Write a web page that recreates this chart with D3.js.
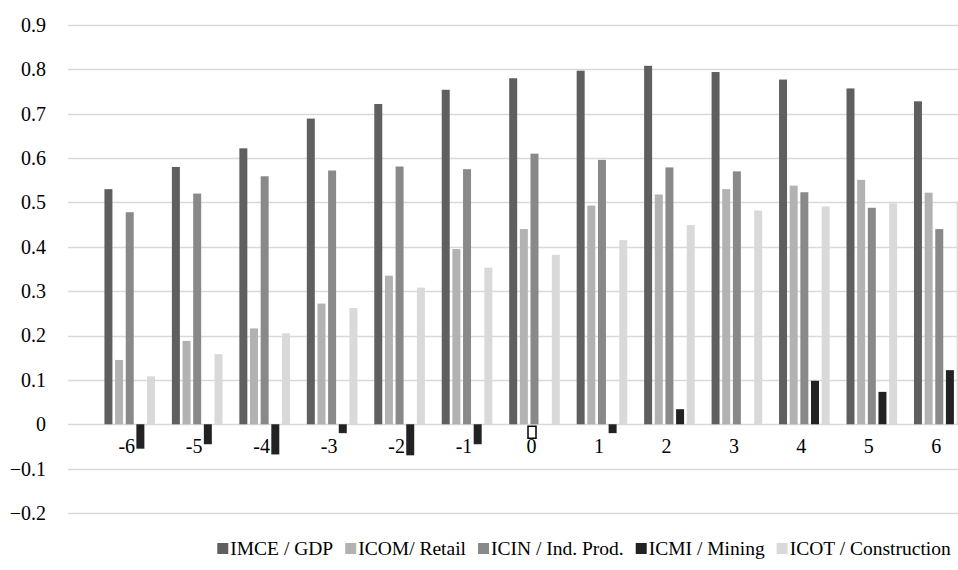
<!DOCTYPE html>
<html>
<head>
<meta charset="utf-8">
<script src="https://cdn.jsdelivr.net/npm/d3@7"></script>
<style>
  html, body { margin: 0; padding: 0; background: #fff; }
  svg { display: block; }
  svg text { font-family: "Liberation Serif", "Times New Roman", serif; fill: #000; }
</style>
</head>
<body>
<svg id="chart" width="958" height="570"></svg>
<script>
// Event-time categories
const categories = ["-6", "-5", "-4", "-3", "-2", "-1", "0", "1", "2", "3", "4", "5", "6"];

// Series names (legend order)
const seriesNames = ["IMCE / GDP", "ICOM/ Retail", "ICIN / Ind. Prod.", "ICMI / Mining", "ICOT / Construction"];

// Series values, one per category
const imceGdp      = [0.530, 0.580, 0.622, 0.689, 0.722, 0.754, 0.780, 0.797, 0.808, 0.794, 0.777, 0.757, 0.728];
const icomRetail   = [0.145, 0.188, 0.216, 0.272, 0.335, 0.395, 0.440, 0.493, 0.518, 0.530, 0.538, 0.551, 0.522];
const icinIndProd  = [0.478, 0.520, 0.559, 0.572, 0.581, 0.575, 0.610, 0.596, 0.579, 0.570, 0.523, 0.488, 0.440];
const icmiMining   = [-0.055, -0.045, -0.068, -0.020, -0.070, -0.045, 0.000, -0.020, 0.034, 0.000, 0.098, 0.073, 0.122];
const icotConstr   = [0.108, 0.158, 0.205, 0.262, 0.308, 0.353, 0.382, 0.415, 0.449, 0.482, 0.491, 0.498, 0.502];

// Y-axis tick labels
const yTicks = [-0.2, -0.1, 0, 0.1, 0.2, 0.3, 0.4, 0.5, 0.6, 0.7, 0.8, 0.9];

const seriesValues = [imceGdp, icomRetail, icinIndProd, icmiMining, icotConstr];
const colors = ["#5f5f5f", "#b2b2b2", "#898989", "#222222", "#d9d9d9"];

// Category whose label carries an unrendered glyph box
const glyphBoxCategory = "0";

const svg = d3.select("#chart");
const fontSize = 20;
const legendFontSize = 19.5;
const serif = '"Liberation Serif", "Times New Roman", serif';

const x0 = d3.scaleBand()
  .domain(categories)
  .range([93, 970])
  .paddingInner(0.25)
  .paddingOuter(0.125);

const barShift = 3;
const x1 = d3.scaleBand()
  .domain(d3.range(seriesNames.length))
  .range([barShift, x0.bandwidth() + barShift])
  .paddingInner(0.25)
  .paddingOuter(0);

const y = d3.scaleLinear()
  .domain([-0.2, 0.9])
  .range([513, 25]);

// Gridlines
svg.append("g")
  .selectAll("line")
  .data(yTicks)
  .join("line")
  .attr("x1", 68)
  .attr("x2", 958)
  .attr("y1", d => Math.round(y(d)) + 0.5)
  .attr("y2", d => Math.round(y(d)) + 0.5)
  .attr("stroke", "#d9d9d9")
  .attr("stroke-width", 1.5);

// Y-axis labels
const yAxis = d3.axisLeft(y)
  .tickValues(yTicks)
  .tickSize(0)
  .tickPadding(0)
  .tickFormat(d => d3.format("")(+d.toFixed(1)));

const yg = svg.append("g")
  .attr("transform", "translate(46,0)")
  .call(yAxis)
  .attr("font-family", serif);
yg.select(".domain").remove();
yg.selectAll("text")
  .style("font-family", serif)
  .style("font-size", fontSize + "px")
  .attr("fill", "#000");

// Category labels under the zero line
const xAxis = d3.axisBottom(x0).tickSize(0).tickPadding(0);
const xg = svg.append("g")
  .attr("transform", `translate(0,${y(0) + 15})`)
  .call(xAxis)
  .attr("font-family", serif);
xg.select(".domain").remove();
xg.selectAll("text")
  .style("font-family", serif)
  .style("font-size", fontSize + "px")
  .attr("fill", "#000");

// Bars
const groups = svg.append("g")
  .selectAll("g")
  .data(categories)
  .join("g")
  .attr("transform", d => `translate(${x0(d)},0)`);

groups.selectAll("rect")
  .data((c, ci) => seriesValues.map((vals, si) => ({ si, c, v: vals[ci] })))
  .join("rect")
  .attr("x", d => x1(d.si))
  .attr("width", x1.bandwidth())
  .attr("y", d => y(Math.max(0, d.v)))
  .attr("height", d => Math.abs(y(d.v) - y(0)))
  .attr("fill", d => colors[d.si]);

// Small outlined glyph box beside the "0" category label
const cx = x0(glyphBoxCategory) + x0.bandwidth() / 2;
svg.append("rect")
  .attr("x", cx - 3.5)
  .attr("y", y(0) + 2)
  .attr("width", 8)
  .attr("height", 12)
  .attr("fill", "#fff")
  .attr("stroke", "#000")
  .attr("stroke-width", 1.5);

// Legend, centred under the plot
const legend = svg.append("g").attr("transform", "translate(0,548)");
const items = [];
let lx = 0;
const itemGap = 12;
seriesNames.forEach((name, i) => {
  const item = legend.append("g");
  item.append("rect")
    .attr("x", 0).attr("y", -5)
    .attr("width", 11).attr("height", 11)
    .attr("fill", colors[i]);
  const t = item.append("text")
    .attr("x", 13)
    .attr("y", 0)
    .attr("dy", "0.35em")
    .style("font-family", serif)
    .style("font-size", legendFontSize + "px")
    .text(name);
  items.push({ item, x: lx });
  lx += 13 + t.node().getComputedTextLength() + itemGap;
});
const legendWidth = lx - itemGap;
const legendStart = 584 - legendWidth / 2;
items.forEach(d => d.item.attr("transform", `translate(${legendStart + d.x},0)`));
</script>
</body>
</html>
